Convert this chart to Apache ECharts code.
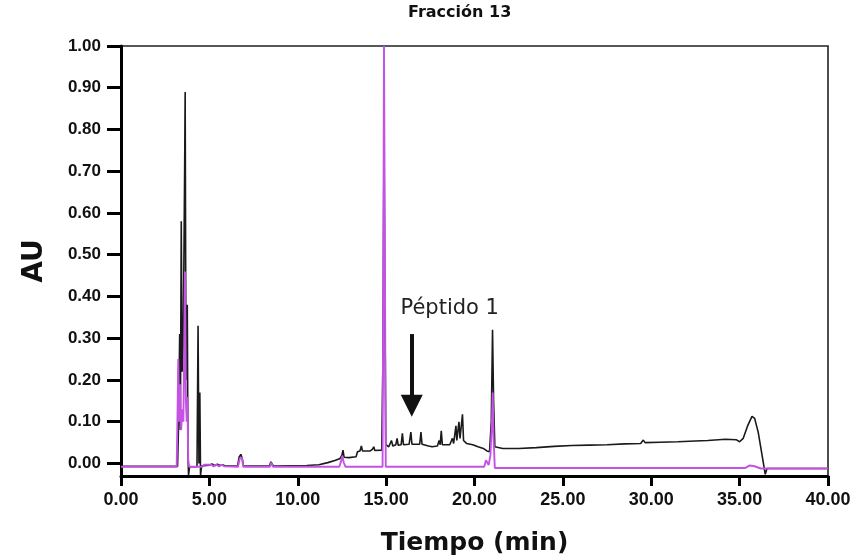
<!DOCTYPE html>
<html>
<head>
<meta charset="utf-8">
<script src="https://cdn.jsdelivr.net/npm/echarts@6/dist/echarts.min.js"></script>
<style>
  html, body { margin: 0; padding: 0; background: #ffffff; }
  #chart { width: 857px; height: 559px; }
</style>
</head>
<body>
<div id="chart"></div>
<script>
// Cromatograma de la fracción 13: dos canales de detección (AU frente a minutos)
const titulo = 'Fracción 13';
const nombreEjeX = 'Tiempo (min)';
const nombreEjeY = 'AU';

// Marcas de los ejes
const marcasAU = [0, 0.1, 0.2, 0.3, 0.4, 0.5, 0.6, 0.7, 0.8, 0.9, 1.0];
const rangoAU = [-0.03, 1.0];
const rangoTiempo = [0, 40];
const pasoTiempo = 5;

// Canal 1 (traza negra): [tiempo (min), AU]
const canalNegro = [
  [0.00, -0.007], [3.20, -0.007], [3.26, 0.10], [3.32, 0.31], [3.36, 0.08], [3.41, 0.58],
  [3.46, 0.22], [3.52, 0.28], [3.60, 0.70], [3.63, 0.89], [3.67, 0.30], [3.71, 0.20],
  [3.75, 0.38], [3.79, 0.02], [3.82, -0.028], [3.88, -0.008],
  [4.30, -0.008], [4.36, 0.33], [4.41, 0.00], [4.46, 0.17], [4.50, -0.028], [4.56, -0.006],
  [5.00, -0.004], [5.15, -0.001], [5.30, -0.005], [5.45, -0.002], [5.60, -0.005], [5.75, -0.003], [5.90, -0.006],
  [6.60, -0.006], [6.68, 0.015], [6.78, 0.022], [6.86, 0.012], [6.92, -0.006],
  [8.40, -0.006], [8.48, 0.004], [8.56, 0.004], [8.62, -0.006],
  [10.50, -0.005], [11.20, -0.003], [11.70, 0.002], [12.10, 0.007], [12.40, 0.012], [12.50, 0.020],
  [12.56, 0.032], [12.62, 0.015], [12.90, 0.014], [13.30, 0.016], [13.38, 0.028], [13.52, 0.030],
  [13.60, 0.042], [13.66, 0.030], [14.10, 0.030], [14.22, 0.034], [14.30, 0.040], [14.36, 0.031], [14.75, 0.032],
  [14.82, 0.25], [14.88, 0.78], [14.93, 0.40], [14.98, 0.045],
  [15.15, 0.040], [15.30, 0.055], [15.38, 0.042], [15.55, 0.045], [15.62, 0.060], [15.68, 0.044],
  [15.85, 0.045], [15.92, 0.072], [15.98, 0.045], [16.30, 0.046], [16.40, 0.075], [16.46, 0.046],
  [16.90, 0.046], [16.97, 0.075], [17.03, 0.046], [17.40, 0.042], [17.50, 0.045], [17.60, 0.040],
  [17.90, 0.042], [18.00, 0.055], [18.06, 0.045], [18.12, 0.078], [18.18, 0.045], [18.60, 0.045],
  [18.75, 0.060], [18.82, 0.048], [18.95, 0.090], [19.00, 0.055], [19.12, 0.100], [19.18, 0.060],
  [19.32, 0.118], [19.38, 0.055], [19.55, 0.048], [19.90, 0.045], [20.20, 0.040], [20.50, 0.036],
  [20.70, 0.030], [20.85, 0.028],
  [20.95, 0.10], [21.02, 0.32], [21.08, 0.15], [21.15, 0.040],
  [21.60, 0.036], [22.50, 0.036], [23.50, 0.038], [24.50, 0.041], [25.50, 0.043], [26.50, 0.044],
  [27.50, 0.045], [28.50, 0.047], [29.40, 0.048], [29.55, 0.056], [29.65, 0.050], [30.50, 0.051],
  [31.50, 0.052], [32.50, 0.054], [33.20, 0.055], [33.30, 0.058], [34.20, 0.058], [34.80, 0.057],
  [35.00, 0.052], [35.20, 0.060], [35.45, 0.090], [35.70, 0.113], [35.85, 0.108], [36.05, 0.075],
  [36.25, 0.025], [36.45, -0.026], [36.55, -0.012], [40.00, -0.012]
];

// Canal 2 (traza magenta): [tiempo (min), AU]
const canalMagenta = [
  [0.00, -0.008], [3.15, -0.008], [3.20, 0.12], [3.24, 0.25], [3.29, 0.10], [3.34, 0.19],
  [3.40, 0.08], [3.47, 0.13], [3.53, 0.10], [3.58, 0.30], [3.62, 0.46], [3.67, 0.15],
  [3.72, 0.10], [3.76, 0.16], [3.80, 0.01], [3.86, -0.008],
  [4.60, -0.008], [4.70, -0.003], [4.80, -0.007], [5.10, -0.003], [5.25, -0.007], [5.40, -0.003],
  [5.55, -0.007], [5.70, -0.003], [5.85, -0.007],
  [6.62, -0.008], [6.72, 0.012], [6.84, 0.014], [6.92, -0.008],
  [8.42, -0.008], [8.50, 0.002], [8.60, -0.008],
  [12.35, -0.008], [12.45, 0.005], [12.52, 0.018], [12.60, 0.003], [12.70, -0.008],
  [14.80, -0.008], [14.84, 0.45], [14.88, 1.00], [14.93, 0.50], [14.98, -0.008],
  [15.60, -0.008], [15.70, -0.004], [15.80, -0.008], [16.60, -0.008], [16.70, -0.004], [16.80, -0.008],
  [17.50, -0.008], [17.60, -0.004], [17.70, -0.008], [18.60, -0.008], [18.70, -0.004], [18.80, -0.008],
  [20.55, -0.008], [20.65, 0.008], [20.72, 0.012], [20.80, -0.004], [20.90, 0.020], [20.98, 0.09],
  [21.03, 0.17], [21.08, 0.06], [21.15, -0.011],
  [35.30, -0.011], [35.55, -0.005], [35.80, -0.006], [36.20, -0.012], [40.00, -0.012]
];

// Anotación del péptido: texto y flecha (coordenadas en unidades de los ejes)
const etiquetaPeptido = 'Péptido 1';
const posEtiquetaPeptido = [18.6, 0.37];
const flechaPeptido = [[16.45, 0.31], [16.45, 0.138]];

const fuente = 'DejaVu Sans';
const fuenteEjes = '"Liberation Sans", Arial, sans-serif';
const chart = echarts.init(document.getElementById('chart'), null, { renderer: 'canvas' });

chart.setOption({
  animation: false,
  backgroundColor: '#ffffff',
  title: {
    text: titulo,
    left: 403,
    top: 0,
    textStyle: { fontFamily: fuente, fontWeight: 'bold', fontSize: 16, color: '#111' }
  },
  grid: {
    left: 121, right: 29, top: 46, bottom: 83,
    show: true, borderColor: '#222', borderWidth: 1.6, backgroundColor: 'transparent',
    outerBoundsMode: 'none'
  },
  xAxis: {
    type: 'value',
    min: rangoTiempo[0], max: rangoTiempo[1], interval: pasoTiempo,
    name: nombreEjeX, nameLocation: 'middle', nameGap: 55,
    nameTextStyle: { fontFamily: fuente, fontWeight: 'bold', fontSize: 25, color: '#111' },
    axisLine: { show: true, onZero: false, lineStyle: { color: '#000', width: 3 } },
    axisTick: { show: true, inside: false, length: 10, lineStyle: { color: '#000', width: 3 } },
    axisLabel: {
      margin: 15, fontFamily: fuenteEjes, fontWeight: 'bold', fontSize: 18, color: '#111',
      formatter: v => v.toFixed(2)
    },
    splitLine: { show: false }
  },
  yAxis: {
    type: 'value',
    min: rangoAU[0], max: rangoAU[1],
    name: nombreEjeY, nameLocation: 'middle', nameGap: 72, nameRotate: 90,
    nameTextStyle: { fontFamily: fuente, fontWeight: 'bold', fontSize: 28, color: '#111' },
    axisLine: { show: true, lineStyle: { color: '#000', width: 3 } },
    axisTick: { show: true, inside: false, length: 14, customValues: marcasAU, lineStyle: { color: '#000', width: 3 } },
    axisLabel: {
      margin: 20, fontFamily: fuenteEjes, fontWeight: 'bold', fontSize: 17, color: '#111',
      customValues: marcasAU, formatter: v => v.toFixed(2)
    },
    splitLine: { show: false }
  },
  series: [
    {
      name: 'Canal negro',
      type: 'line',
      data: canalNegro,
      showSymbol: false,
      clip: true,
      lineStyle: { color: '#1a1a1a', width: 1.6 },
      emphasis: { disabled: true },
      markLine: {
        silent: true,
        symbol: ['none', 'triangle'],
        symbolSize: [22, 22],
        lineStyle: { color: '#111', width: 4, type: 'solid' },
        itemStyle: { color: '#111' },
        label: { show: false },
        emphasis: { disabled: true },
        data: [[{ coord: flechaPeptido[0] }, { coord: flechaPeptido[1] }]]
      },
      markPoint: {
        silent: true,
        symbol: 'circle',
        symbolSize: 1,
        itemStyle: { color: 'rgba(0,0,0,0)' },
        label: {
          show: true, position: 'inside', formatter: etiquetaPeptido,
          fontFamily: fuente, fontSize: 21, color: '#222'
        },
        emphasis: { disabled: true },
        data: [{ coord: posEtiquetaPeptido }]
      }
    },
    {
      name: 'Canal magenta',
      type: 'line',
      data: canalMagenta,
      showSymbol: false,
      clip: true,
      lineStyle: { color: '#c452e4', width: 1.9 },
      emphasis: { disabled: true }
    }
  ]
});
</script>
</body>
</html>
